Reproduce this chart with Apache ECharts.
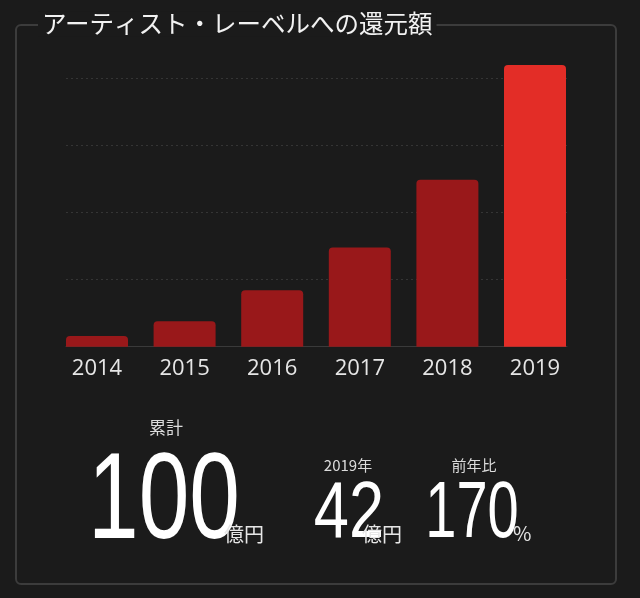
<!DOCTYPE html>
<html>
	<head>
		<meta charset="utf-8">
		<title>還元額</title>
		<script src="https://cdn.jsdelivr.net/npm/echarts@6/dist/echarts.min.js"></script>
		<style>
			html, body { margin: 0; padding: 0; background: #1b1b1b; }
			#chart { width: 640px; height: 598px; }
		</style>
	</head>
	<body>
		<div id="chart"></div>
		<script charset="utf-8">
		    // 年ごとの還元額（億円）
		    var years = ['2014', '2015', '2016', '2017', '2018', '2019'];
		    var amounts = [1.6, 3.8, 8.4, 14.8, 24.9, 42];
		    var barColors = ['#99181a', '#99181a', '#99181a', '#99181a', '#99181a', '#e32d27'];

		    // 下の数字
		    var statCaptions = ['累計', '2019年', '前年比'];
		    var statValues = ['100', '42', '170'];
		    var statUnits = ['億円', '億円', '%'];

		    var cjk = '"Noto Sans CJK JP", "Noto Sans CJK SC", sans-serif';
		    var num = '"Liberation Sans", sans-serif';

		    var chart = echarts.init(document.getElementById('chart'));

		    var barData = [];
		    for (var i = 0; i < amounts.length; i++) {
		        barData.push({ value: amounts[i], itemStyle: { color: barColors[i] } });
		    }

		    var option = {
		        backgroundColor: '#1b1b1b',
		        animation: false,
		        grid: [
		            // bars
		            { left: 53.2, right: 61.2, top: 65, bottom: 251.3 },
		            // grid lines / baseline only
		            { left: 66, right: 73, top: 65, bottom: 251.3 }
		        ],
		        xAxis: [
		            {
		                type: 'category',
		                gridIndex: 0,
		                data: years,
		                axisLine: { show: false },
		                axisTick: { show: false },
		                axisLabel: {
		                    color: '#e6e6e6',
		                    fontSize: 22,
		                    fontFamily: '"Open Sans", sans-serif',
		                    margin: 11
		                }
		            },
		            {
		                type: 'value',
		                gridIndex: 1,
		                min: 0,
		                max: 1,
		                axisLine: { show: true, onZero: false, lineStyle: { color: '#3a3a3a', width: 1 } },
		                axisTick: { show: false },
		                axisLabel: { show: false },
		                splitLine: { show: false }
		            }
		        ],
		        yAxis: [
		            {
		                type: 'value',
		                gridIndex: 0,
		                min: 0,
		                max: 42,
		                show: false,
		                splitLine: { show: false }
		            },
		            {
		                type: 'value',
		                gridIndex: 1,
		                min: 0,
		                max: 42,
		                interval: 10,
		                axisLine: { show: false },
		                axisTick: { show: false },
		                axisLabel: { show: false },
		                splitLine: {
		                    show: true,
		                    showMinLine: false,
		                    showMaxLine: false,
		                    lineStyle: { color: '#353535', type: [2, 3], width: 1 }
		                }
		            }
		        ],
		        series: [
		            {
		                type: 'bar',
		                xAxisIndex: 0,
		                yAxisIndex: 0,
		                data: barData,
		                barWidth: 62,
		                itemStyle: { borderRadius: [4, 4, 0, 0] },
		                z: 3
		            }
		        ],
		        graphic: [
		            // 枠
		            {
		                type: 'rect',
		                shape: { x: 16, y: 25, width: 600, height: 559, r: 5 },
		                style: { fill: null, stroke: '#3c3c3c', lineWidth: 2 },
		                z: 0
		            },
		            // タイトル
		            {
		                type: 'text',
		                x: 38,
		                y: 24,
		                style: {
		                    text: 'アーティスト・レーベルへの還元額',
		                    fill: '#f2f2f2',
		                    font: '24.5px ' + cjk,
		                    verticalAlign: 'middle',
		                    backgroundColor: '#1b1b1b',
		                    padding: [0, 4, 0, 4]
		                },
		                z: 10
		            },
		            { type: 'text', x: 166, y: 428, style: { text: statCaptions[0], fill: '#dcdcdc', font: '17px ' + cjk, align: 'center', verticalAlign: 'middle' } },
		            { type: 'text', x: 348, y: 465, style: { text: statCaptions[1], fill: '#dcdcdc', font: '15px ' + cjk, align: 'center', verticalAlign: 'middle' } },
		            { type: 'text', x: 474, y: 465, style: { text: statCaptions[2], fill: '#dcdcdc', font: '15px ' + cjk, align: 'center', verticalAlign: 'middle' } },

		            { type: 'text', x: 164, y: 504, scaleX: 0.74, style: { text: statValues[0], fill: '#ffffff', font: '123px ' + num, align: 'center', verticalAlign: 'middle' } },
		            { type: 'text', x: 349, y: 515, scaleX: 0.79, style: { text: statValues[1], fill: '#ffffff', font: '80px ' + num, align: 'center', verticalAlign: 'middle' } },
		            { type: 'text', x: 472, y: 515, scaleX: 0.70, style: { text: statValues[2], fill: '#ffffff', font: '80px ' + num, align: 'center', verticalAlign: 'middle' } },

		            { type: 'text', x: 224, y: 534, style: { text: statUnits[0], fill: '#e6e6e6', font: '20px ' + cjk, verticalAlign: 'middle' } },
		            { type: 'text', x: 362, y: 534, style: { text: statUnits[1], fill: '#e6e6e6', font: '20px ' + cjk, verticalAlign: 'middle' } },
		            { type: 'text', x: 513, y: 533, style: { text: statUnits[2], fill: '#e6e6e6', font: '20px ' + cjk, verticalAlign: 'middle' } }
		        ]
		    };
		    chart.setOption(option);
		</script>
	</body>
</html>
